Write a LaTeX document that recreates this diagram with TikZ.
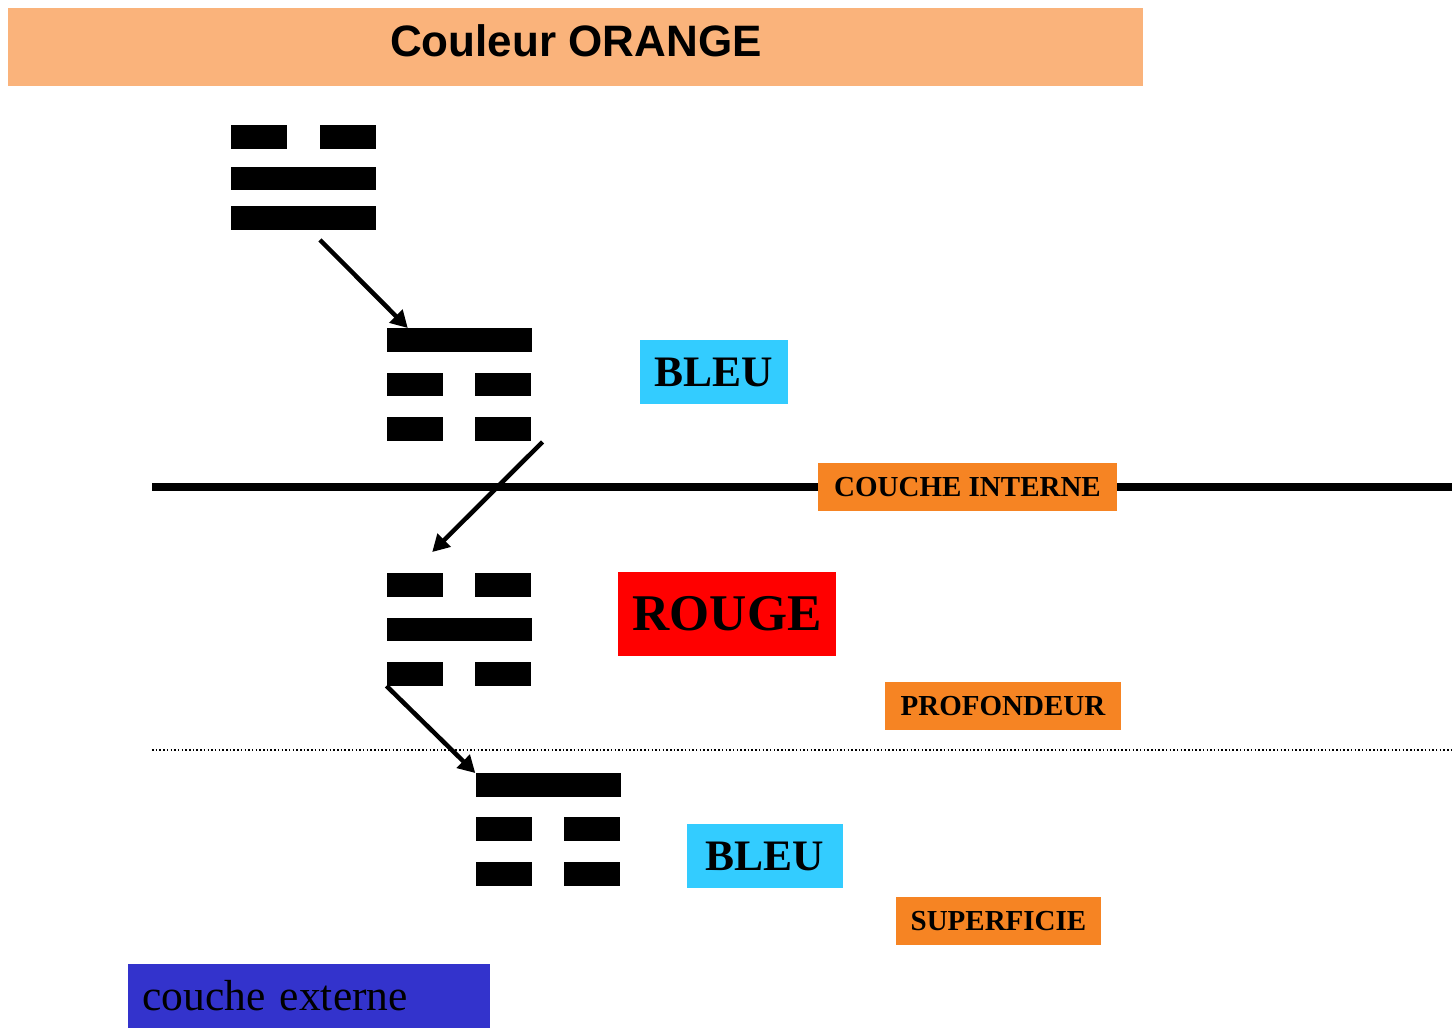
\documentclass[tikz,border=0pt]{standalone}
\usepackage{fontspec}
\setmainfont{Liberation Serif}
\newfontfamily\titlefont{Liberation Sans}
\usetikzlibrary{arrows.meta,positioning}
\definecolor{paleorange}{HTML}{FAB37B}
\definecolor{layerorange}{HTML}{F68423}
\definecolor{skyblue}{HTML}{33CCFF}
\definecolor{deepblue}{HTML}{3333CC}
\newcommand{\yangbar}[3]{\node[yang] (#1) at (#2,#3) {};}
\newcommand{\yinbar}[3]{%
  \node[yin, anchor=west] (#1l) at ({#2-72.5},#3) {};
  \node[yin, anchor=east] (#1r) at ({#2+72.5},#3) {};}
\tikzset{
  yang/.style={fill=black, inner sep=0pt, minimum width=145pt, minimum height=23.5pt},
  yin/.style={fill=black, inner sep=0pt, minimum width=56pt, minimum height=23.5pt},
  flow/.style={line width=4.5pt, -{Triangle[length=17pt,width=18pt]}},
  colourbox/.style={inner sep=0pt, font=\bfseries},
  layerbox/.style={fill=layerorange, inner sep=0pt, minimum height=48pt,
    font=\bfseries\fontsize{29}{29}\selectfont},
}

\begin{document}
\begin{tikzpicture}[x=1pt,y=-1pt]
  \useasboundingbox (0,0) rectangle (1452,1035);
  % title
  \fill[paleorange] (8,8) rectangle (1143,86);
  \node[anchor=base, font=\titlefont\bfseries\fontsize{44}{44}\selectfont] (title) at (576,57) {Couleur ORANGE};
  % trigrams
  \yinbar{t1a}{303.5}{137}
  \yangbar{t1b}{303.5}{178.5}
  \yangbar{t1c}{303.5}{218}
  \yangbar{t2a}{459}{340}
  \yinbar{t2b}{459}{384.5}
  \yinbar{t2c}{459}{429}
  \yinbar{t3a}{459}{585}
  \yangbar{t3b}{459}{629.5}
  \yinbar{t3c}{459}{674}
  \yangbar{t4a}{548}{785}
  \yinbar{t4b}{548}{829}
  \yinbar{t4c}{548}{874}
  % layers
  \coordinate (innerL) at (152,487);
  \coordinate (innerR) at (1452,487);
  \coordinate (outerL) at (152,750);
  \coordinate (outerR) at (1452,750);
  \draw[line width=7.5pt] (innerL) -- (innerR);
  \draw[line width=1.5pt, dash pattern=on 1.5pt off 2.2pt] (outerL) -- (outerR);
  % arrows
  \draw[flow] ([xshift=16.5pt,yshift=-10pt]t1c.south) -- ([xshift=21.5pt]t2a.north west);
  \draw[flow] ([xshift=11pt,yshift=-1pt]t2cr.south east) -- ([xshift=17.5pt,yshift=21pt]t3al.north);
  \draw[flow] (t3cl.south west) -- (t4a.north west);
  % labels
  \node[colourbox, fill=skyblue, minimum width=148pt, minimum height=64pt,
    font=\bfseries\fontsize{43.5}{43.5}\selectfont] (bleu1) at (714,372) {BLEU};
  \node[colourbox, fill=red, minimum width=218pt, minimum height=84pt,
    font=\bfseries\fontsize{51.5}{51.5}\selectfont] (rouge) at (727,614) {ROUGE};
  \node[colourbox, fill=skyblue, minimum width=156pt, minimum height=64pt,
    font=\bfseries\fontsize{43.5}{43.5}\selectfont] (bleu2) at (765,856) {BLEU};
  \node[layerbox, minimum width=299pt] (interne) at (967.5,487) {COUCHE INTERNE};
  \node[layerbox, minimum width=236pt] (profond) at (1003,706) {PROFONDEUR};
  \node[layerbox, minimum width=205pt] (surface) at (998.5,921) {SUPERFICIE};
  \node[fill=deepblue, anchor=west, inner xsep=14pt, inner ysep=0pt, text width=334pt,
    minimum height=64pt, align=left, font=\fontsize{43.5}{43.5}\selectfont] (externe) at (128,996) {couche externe};
\end{tikzpicture}
\end{document}
